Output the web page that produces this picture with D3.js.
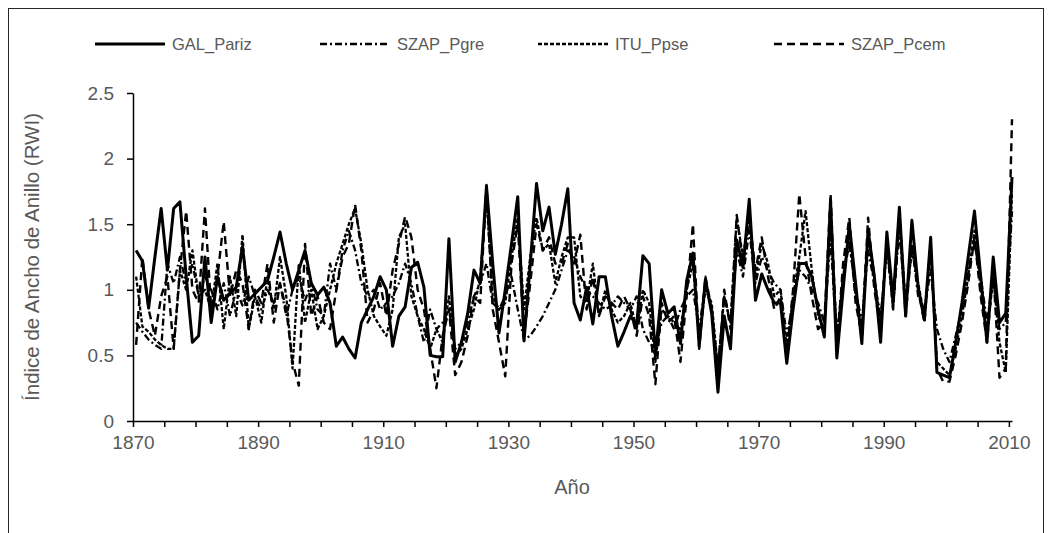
<!DOCTYPE html>
<html>
<head>
<meta charset="utf-8">
<script src="https://cdnjs.cloudflare.com/ajax/libs/d3/7.8.5/d3.min.js"></script>
<style>
body { margin: 0; background: #fff; }
text { font-family: "Liberation Sans", Arial, sans-serif; }
</style>
</head>
<body>
<div id="chart"></div>
<script>
// ring width index series, one value per year 1871..2011
var firstYear = 1871;

var galPariz = [
  1.30, 1.22, 0.86, 1.25, 1.62, 1.15, 1.62, 1.67, 1.10, 0.60,   // 1871-1880
  0.65, 1.25, 0.75, 1.10, 0.92, 0.97, 1.02, 1.33, 0.92, 0.97,   // 1881-1890
  1.02, 1.07, 1.25, 1.44, 1.20, 1.00, 1.15, 1.30, 1.05, 0.96,   // 1891-1900
  1.02, 0.90, 0.57, 0.64, 0.55, 0.48, 0.75, 0.85, 0.95, 1.10,   // 1901-1910
  1.00, 0.57, 0.80, 0.87, 1.17, 1.21, 1.02, 0.50, 0.49, 0.49,   // 1911-1920
  1.39, 0.45, 0.60, 0.82, 1.15, 1.05, 1.79, 1.20, 0.67, 1.00,   // 1921-1930
  1.35, 1.71, 0.61, 1.20, 1.81, 1.45, 1.63, 1.27, 1.50, 1.77,   // 1931-1940
  0.90, 0.77, 1.02, 0.74, 1.10, 1.10, 0.80, 0.57, 0.68, 0.80,   // 1941-1950
  0.73, 1.26, 1.20, 0.50, 1.00, 0.82, 0.87, 0.59, 1.07, 1.28,   // 1951-1960
  0.57, 1.08, 0.82, 0.22, 0.80, 0.55, 1.38, 1.17, 1.69, 0.92,   // 1961-1970
  1.12, 1.00, 0.90, 0.90, 0.44, 0.85, 1.20, 1.20, 1.10, 0.85,   // 1971-1980
  0.64, 1.68, 0.48, 1.00, 1.50, 1.05, 0.59, 1.45, 1.10, 0.60,   // 1981-1990
  1.44, 0.92, 1.63, 0.80, 1.53, 1.02, 0.77, 1.40, 0.37, 0.35,   // 1991-2000
  0.33, 0.60, 0.90, 1.25, 1.60, 1.10, 0.60, 1.25, 0.75, 0.82,   // 2001-2010
  1.86                                                          // 2011
];

var szapPgre = [
  0.75, 0.68, 0.62, 0.58, 0.55, 1.20, 1.05, 1.25, 1.05, 1.20,
  0.95, 1.10, 1.00, 0.85, 1.05, 0.80, 1.00, 0.88, 1.10, 0.95,
  0.85, 1.00, 0.90, 1.05, 0.80, 1.00, 1.10, 0.92, 1.05, 0.85,
  0.80, 1.20, 1.00, 1.30, 1.45, 1.30, 1.05, 0.95, 1.00, 0.85,
  0.90, 0.95, 1.05, 1.20, 1.05, 0.80, 0.60, 0.85, 0.70, 0.75,
  0.85, 0.55, 0.60, 0.75, 0.95, 1.05, 1.20, 0.90, 0.85, 0.95,
  1.10, 0.85, 0.62, 0.65, 0.72, 0.80, 0.90, 1.00, 1.15, 1.30,
  1.25, 1.10, 1.00, 0.95, 0.90, 0.85, 0.88, 0.95, 0.90, 0.85,
  0.95, 0.70, 0.60, 0.55, 0.75, 0.80, 0.70, 0.85, 0.95, 1.00,
  0.70, 1.05, 0.85, 0.40, 0.95, 0.75, 1.30, 1.10, 1.45, 1.05,
  1.25, 1.15, 1.05, 1.00, 0.65, 0.90, 1.15, 1.10, 1.00, 0.90,
  0.75, 1.40, 0.60, 1.10, 1.35, 1.00, 0.75, 1.30, 1.05, 0.80,
  1.30, 0.90, 1.45, 0.85, 1.35, 0.95, 0.85, 1.15, 0.70, 0.55,
  0.45, 0.65, 0.85, 1.15, 1.35, 1.10, 0.75, 1.10, 0.70, 0.75,
  1.60
];

var ituPpse = [
  1.10, 0.72, 0.68, 0.62, 0.58, 0.55, 0.55, 1.15, 1.00, 1.30,
  0.95, 1.00, 0.85, 1.20, 0.70, 1.10, 0.80, 1.42, 0.70, 0.95,
  0.75, 1.10, 0.85, 1.25, 0.95, 0.40, 1.20, 0.75, 1.00, 0.70,
  0.80, 1.00, 1.20, 1.35, 1.50, 1.62, 1.35, 1.00, 0.80, 0.72,
  0.65, 0.85, 1.40, 1.50, 0.95, 0.80, 0.70, 0.55, 0.70, 0.60,
  0.95, 0.50, 0.55, 0.70, 0.85, 1.10, 1.70, 0.95, 0.85, 0.90,
  1.25, 1.55, 0.85, 1.25, 1.55, 1.30, 1.35, 1.05, 1.25, 1.40,
  1.40, 0.95, 0.90, 1.20, 0.80, 1.00, 0.85, 0.75, 0.80, 0.90,
  0.70, 1.00, 0.90, 0.45, 0.85, 0.80, 0.75, 0.70, 1.00, 1.20,
  0.65, 1.00, 0.90, 0.40, 0.95, 0.75, 1.55, 1.25, 1.55, 1.10,
  1.35, 1.20, 0.95, 1.00, 0.55, 0.95, 1.25, 1.60, 1.15, 0.80,
  0.70, 1.60, 0.65, 1.10, 1.40, 0.95, 0.70, 1.45, 1.10, 0.75,
  1.35, 0.85, 1.55, 0.90, 1.30, 1.05, 0.80, 1.30, 0.45, 0.40,
  0.35, 0.55, 0.80, 1.10, 1.45, 1.00, 0.65, 1.10, 0.60, 0.37,
  1.75
];

var szapPcem = [
  0.58, 1.25, 0.85, 0.65, 0.95, 1.10, 0.55, 1.15, 1.60, 1.00,
  0.90, 1.62, 0.85, 1.10, 1.52, 0.95, 1.15, 1.05, 0.70, 1.00,
  0.90, 1.20, 0.75, 1.05, 0.85, 0.45, 0.27, 1.35, 0.80, 0.95,
  0.75, 0.70, 1.00, 1.25, 1.35, 1.65, 1.30, 0.75, 0.85, 1.05,
  0.80, 1.15, 1.35, 1.56, 1.40, 1.00, 0.85, 0.55, 0.25, 0.65,
  0.85, 0.35, 0.45, 0.65, 0.95, 0.90, 1.80, 0.85, 0.60, 0.34,
  1.20, 1.50, 0.65, 1.05, 1.50, 1.30, 1.40, 1.20, 1.20, 1.35,
  1.20, 1.42, 0.85, 1.10, 0.80, 0.95, 0.90, 0.85, 0.95, 0.85,
  0.65, 0.95, 0.80, 0.28, 0.90, 0.75, 0.80, 0.45, 0.95, 1.50,
  0.55, 1.10, 0.85, 0.35, 1.00, 0.70, 1.57, 1.20, 1.55, 1.15,
  1.40, 1.10, 0.85, 0.95, 0.50, 1.00, 1.73, 1.25, 0.95, 0.70,
  0.75, 1.73, 0.55, 1.20, 1.55, 0.90, 0.65, 1.55, 1.00, 0.70,
  1.40, 0.85, 1.60, 0.80, 1.35, 1.00, 0.75, 1.35, 0.40, 0.30,
  0.30, 0.50, 0.75, 1.05, 1.40, 0.95, 0.60, 1.15, 0.33, 0.40,
  2.30
];

var seriesNames = ["GAL_Pariz", "SZAP_Pgre", "ITU_Ppse", "SZAP_Pcem"];
var yTicks = [0, 0.5, 1, 1.5, 2, 2.5];
var xTicks = [1870, 1875, 1880, 1885, 1890, 1895, 1900, 1905, 1910, 1915, 1920,
              1925, 1930, 1935, 1940, 1945, 1950, 1955, 1960, 1965, 1970, 1975,
              1980, 1985, 1990, 1995, 2000, 2005, 2010];
var xLabels = [1870, 1890, 1910, 1930, 1950, 1970, 1990, 2010];

function drawRwiChart() {
    var W = 1052, H = 533;
    var margin = {top: 93, left: 133};
    var width = 879, height = 328;

    var styles = [
        {width: 3,   dash: null},
        {width: 2.3, dash: "7,3,2,3"},
        {width: 2.3, dash: "4,2"},
        {width: 2.4, dash: "8,5"}
    ];
    var allSeries = [galPariz, szapPgre, ituPpse, szapPcem];

    var svg = d3.select("#chart").append("svg")
        .attr("width", W)
        .attr("height", H);

    // chart frame (bottom edge falls outside the picture)
    svg.append("rect")
        .attr("x", 8.5).attr("y", 8.5)
        .attr("width", 1035).attr("height", 600)
        .attr("fill", "none")
        .attr("stroke", "#262626")
        .attr("stroke-width", 1);

    var g = svg.append("g")
        .attr("transform", "translate(" + margin.left + "," + margin.top + ")");

    // axis runs half a year past the 2010 tick, points sit half a year left of the ticks
    var x = d3.scaleLinear().domain([1870, 2010.5]).range([0, width]);
    var y = d3.scaleLinear().domain([0, 2.5]).range([height, 0]);

    var line = d3.line()
        .x(function(d, i) { return x(firstYear + i - 0.5); })
        .y(function(d) { return y(d); });

    // draw back to front so the solid line ends on top
    for (var k = allSeries.length - 1; k >= 0; k--) {
        g.append("path")
            .attr("fill", "none")
            .attr("stroke", "#000")
            .attr("stroke-width", styles[k].width)
            .attr("stroke-dasharray", styles[k].dash)
            .attr("stroke-linejoin", "round")
            .attr("d", line(allSeries[k]));
    }

    // y axis
    var yAxis = g.append("g")
        .call(d3.axisLeft(y).tickValues(yTicks).tickSize(6).tickPadding(13)
            .tickSizeOuter(0)
            .tickFormat(function(d) { return d; }));
    yAxis.selectAll("text")
        .attr("fill", "#595959")
        .style("font-size", "19px")
        .style("font-family", "'Liberation Sans', Arial, sans-serif");

    // x axis
    var xAxis = g.append("g")
        .attr("transform", "translate(0," + height + ")")
        .call(d3.axisBottom(x).tickValues(xTicks).tickSize(6).tickPadding(9)
            .tickSizeOuter(0)
            .tickFormat(function(d) { return xLabels.indexOf(d) >= 0 ? d : ""; }));
    xAxis.selectAll("text")
        .attr("fill", "#595959")
        .style("font-size", "19px")
        .style("font-family", "'Liberation Sans', Arial, sans-serif");

    [yAxis, xAxis].forEach(function(a) {
        a.select(".domain").attr("stroke", "#000").attr("stroke-width", 1.5);
        a.selectAll(".tick line").attr("stroke", "#000").attr("stroke-width", 1.5);
    });

    // axis titles
    svg.append("text")
        .attr("x", 572).attr("y", 494)
        .attr("text-anchor", "middle")
        .attr("fill", "#595959")
        .style("font-size", "20px")
        .text("Año");

    svg.append("text")
        .attr("transform", "translate(39," + (margin.top + height / 2) + ") rotate(-90)")
        .attr("text-anchor", "middle")
        .attr("fill", "#595959")
        .style("font-size", "20.5px")
        .text("Índice de Ancho de Anillo (RWI)");

    // handmade legend
    var legendX = [95, 320, 538, 774];
    var legendY = 44;
    seriesNames.forEach(function(name, k) {
        svg.append("line")
            .attr("x1", legendX[k]).attr("x2", legendX[k] + 70)
            .attr("y1", legendY).attr("y2", legendY)
            .attr("stroke", "#000")
            .attr("stroke-width", styles[k].width)
            .attr("stroke-dasharray", styles[k].dash);
        svg.append("text")
            .attr("x", legendX[k] + 77).attr("y", legendY)
            .attr("dy", "0.35em")
            .attr("fill", "#595959")
            .style("font-size", "16.5px")
            .text(name);
    });
}
drawRwiChart();
</script>
</body>
</html>
